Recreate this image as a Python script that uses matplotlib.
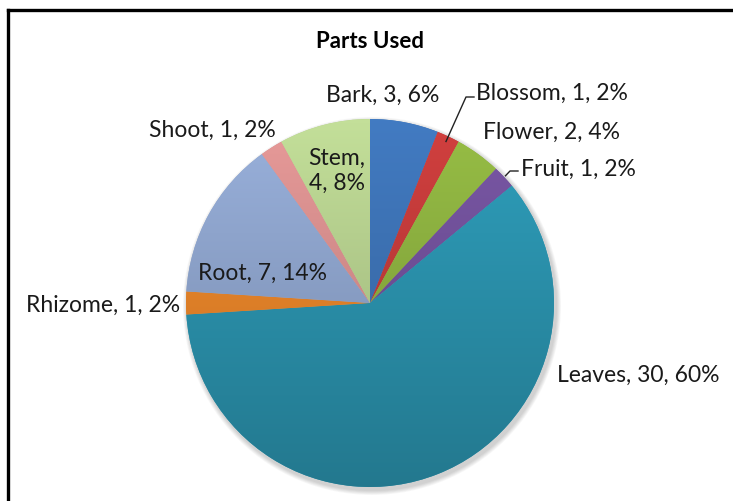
import numpy as np
import matplotlib.pyplot as plt
from matplotlib.colors import to_rgb
from matplotlib.lines import Line2D

parts = ['Bark', 'Blossom', 'Flower', 'Fruit', 'Leaves', 'Rhizome', 'Root', 'Shoot', 'Stem']
counts = [3, 1, 2, 1, 30, 1, 7, 1, 4]
colors = ['#3d72b4', '#c23b3a', '#8cb040', '#71519a', '#2b93ae',
          '#e8852a', '#8ea4cc', '#d78f8e', '#b5cf8e']

plt.rcParams['font.family'] = ['Lato', 'DejaVu Sans']

W, H = 733, 501
fig = plt.figure(figsize=(W / 100, H / 100), dpi=100)
ax = fig.add_axes([0, 0, 1, 1])
ax.set_aspect('equal')

cx, cy, r = 370, 198, 184

# soft shadow
for k in range(6):
    c = plt.Circle((cx + 2, cy - 3), r + 1 + k * 0.8, color='black',
                   alpha=0.03, lw=0, zorder=0)
    ax.add_patch(c)

total = sum(counts)
wedges, _ = ax.pie(counts, colors=colors, startangle=90, counterclock=False,
                   center=(cx, cy), radius=r, frame=True,
                   wedgeprops=dict(linewidth=0))

# vertical gradient on each slice (lighter top, darker bottom)
for w, col in zip(wedges, colors):
    rgb = np.array(to_rgb(col))
    t = np.linspace(0, 1, 256)[:, None]
    top = np.clip(rgb * 1.08, 0, 1)
    bot = rgb * 0.82
    img = (top * (1 - t) + bot * t)[:, None, :]
    im = ax.imshow(img, extent=(cx - r, cx + r, cy - r, cy + r), aspect='auto',
                   origin='upper', zorder=2)
    im.set_clip_path(w)
    w.set_zorder(1)
ax.set_xlim(0, W)
ax.set_ylim(0, H)
ax.axis('off')

fs = 16.5
tc = '#1a1a1a'
labels = ['%s, %d, %d%%' % (p, c, round(100 * c / total)) for p, c in zip(parts, counts)]
mid = {}
for w, p in zip(wedges, parts):
    mid[p] = np.deg2rad((w.theta1 + w.theta2) / 2)

ax.text(383, H - 95, labels[0], ha='center', va='center', fontsize=fs, color=tc)
ax.text(476, H - 93, labels[1], ha='left', va='center', fontsize=fs, color=tc)
ax.text(483, H - 132, labels[2], ha='left', va='center', fontsize=fs, color=tc)
ax.text(521, H - 169, labels[3], ha='left', va='center', fontsize=fs, color=tc)
ax.text(557, H - 375, labels[4], ha='left', va='center', fontsize=fs, color=tc)
ax.text(180, H - 305, labels[5], ha='right', va='center', fontsize=fs, color=tc)
ax.text(262, H - 273, labels[6], ha='center', va='center', fontsize=fs, color=tc)
ax.text(276, H - 130, labels[7], ha='right', va='center', fontsize=fs, color=tc)
ax.text(337, H - 171, 'Stem,\n4, 8%', ha='center', va='center', fontsize=fs,
        color=tc, linespacing=1.25)

# leader lines
a = mid['Blossom']
x0, y0 = cx + r * 0.97 * np.cos(a), cy + r * 0.97 * np.sin(a)
ax.plot([x0, 466, 474], [y0, H - 97, H - 97], color='#222222', lw=1, zorder=3)
a = mid['Fruit']
x0, y0 = cx + r * 1.01 * np.cos(a), cy + r * 1.01 * np.sin(a)
ax.plot([x0, 510, 518], [y0, H - 171, H - 171], color='#222222', lw=1, zorder=3)

fig.text(370 / W, 1 - 42 / H, 'Parts Used', ha='center', va='center',
         fontsize=16, fontweight='bold', color='black')

# outer frame
fig.add_artist(Line2D([8 / W, 8 / W], [0, 1 - 9.5 / H], transform=fig.transFigure,
                      color='black', lw=2.4))
fig.add_artist(Line2D([8 / W, 1], [1 - 9.5 / H, 1 - 9.5 / H], transform=fig.transFigure,
                      color='black', lw=2.4))

fig.savefig('out.png', dpi=100)
